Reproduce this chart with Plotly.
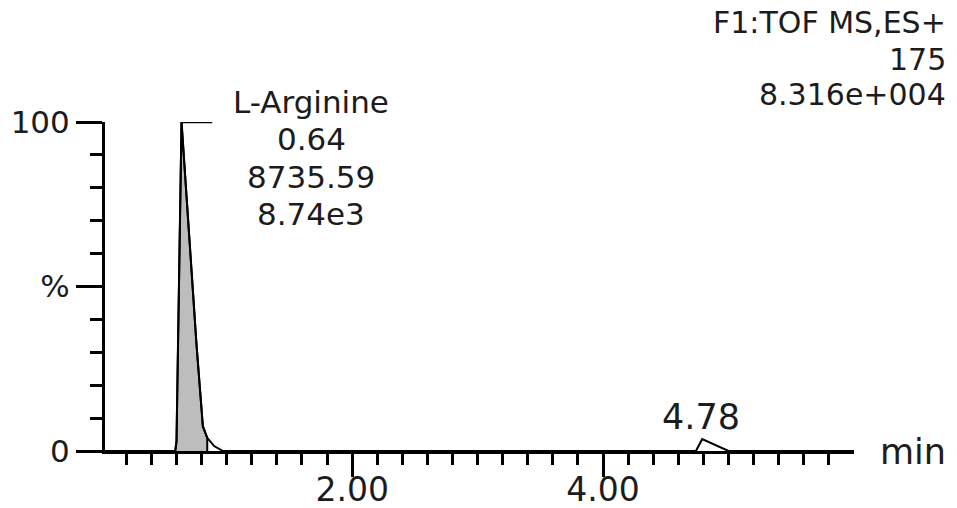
import numpy as np
import plotly.graph_objects as go

# Extracted ion chromatogram, m/z 175 (time in min, relative intensity in %)
time_min = [0.00, 0.59, 0.60, 0.64, 0.70, 0.76, 0.81, 0.845, 0.90, 0.97, 4.74, 4.79, 5.00, 6.00]
intensity = [0, 0, 3, 100, 66, 32, 7.5, 4, 1.5, 0, 0, 3.6, 0, 0]

# Integrated region of the main peak
area_time = [0.59, 0.60, 0.64, 0.70, 0.76, 0.81, 0.845, 0.845]
area_int = [0, 3, 100, 66, 32, 7.5, 4, 0]

# Peak annotations
peak_name = "L-Arginine"
peak_rt = 0.64
peak_area = "8735.59"
peak_height = "8.74e3"
minor_peak_rt = 4.78

# Trace header
header_lines = ["F1:TOF MS,ES+", "175", "8.316e+004"]

# Axis ticks
x_major = [1, 2, 3, 4, 5]
x_major_text = ["", "2.00", "", "4.00", ""]
x_minor = [round(v, 1) for v in np.arange(0.2, 5.81, 0.2)]
y_major = [0, 50, 100]
y_major_text = ["0", "%", "100"]

W, H = 957, 508
ML, MR, MT, MB = 105, 103, 122, 57
X0, X1 = 0.03, 6.0
FONT = "DejaVu Sans"
INK = "#1c1c1c"


def py_to_paper(py):
    return (H - MB - py) / (H - MT - MB)


def px_to_paper(px):
    return (px - ML) / (W - ML - MR)


fig = go.Figure()

# shaded integration area
fig.add_trace(go.Scatter(
    x=area_time, y=area_int, mode="lines", fill="toself",
    fillcolor="#bdbdbd", line=dict(color="black", width=2),
    hoverinfo="skip", showlegend=False))

# chromatogram
fig.add_trace(go.Scatter(
    x=time_min, y=intensity, mode="lines",
    line=dict(color="black", width=2), showlegend=False, cliponaxis=False))

# leader line from the apex to the peak label
apex = int(np.argmax(intensity))
fig.add_trace(go.Scatter(
    x=[time_min[apex], time_min[apex] + 0.245], y=[intensity[apex]] * 2,
    mode="lines", line=dict(color="black", width=2.5),
    showlegend=False, cliponaxis=False))

annotations = []
label_x = 1.675
label_lines = [peak_name, f"{peak_rt:.2f}", peak_area, peak_height]
label_py = [102, 139, 177, 214]
for txt, py in zip(label_lines, label_py):
    annotations.append(dict(
        x=label_x, xref="x", y=py_to_paper(py), yref="paper",
        text=txt, showarrow=False, xanchor="center", yanchor="middle",
        font=dict(family=FONT, size=31, color=INK)))

annotations.append(dict(
    x=minor_peak_rt, xref="x", y=py_to_paper(417), yref="paper",
    text=f"{minor_peak_rt:.2f}", showarrow=False, xanchor="center", yanchor="middle",
    font=dict(family=FONT, size=35, color=INK)))

for txt, py in zip(header_lines, [23, 59, 95]):
    annotations.append(dict(
        x=px_to_paper(948), xref="paper", y=py_to_paper(py), yref="paper",
        text=txt, showarrow=False, xanchor="right", yanchor="middle",
        font=dict(family=FONT, size=30, color=INK)))

annotations.append(dict(
    x=px_to_paper(878), xref="paper", y=py_to_paper(452), yref="paper",
    text="min", showarrow=False, xanchor="left", yanchor="middle",
    font=dict(family=FONT, size=35, color=INK)))

fig.update_layout(
    width=W, height=H,
    margin=dict(l=ML, r=MR, t=MT, b=MB, pad=0, autoexpand=False),
    paper_bgcolor="white", plot_bgcolor="white",
    font=dict(family=FONT, size=32, color=INK),
    annotations=annotations,
    xaxis=dict(
        range=[X0, X1], showgrid=False, zeroline=False, automargin=False,
        showline=True, linecolor="black", linewidth=3,
        tickmode="array", tickvals=x_major, ticktext=x_major_text,
        ticks="outside", ticklen=23, tickwidth=3, tickcolor="black",
        ticklabelstandoff=-16,
        tickfont=dict(family=FONT, size=33, color=INK),
        minor=dict(tickmode="array", tickvals=x_minor, ticks="outside",
                   ticklen=11, tickwidth=3, tickcolor="black", showgrid=False),
    ),
    yaxis=dict(
        range=[0, 100], showgrid=False, zeroline=False, automargin=False,
        showline=True, linecolor="black", linewidth=3,
        tickmode="array", tickvals=y_major, ticktext=y_major_text,
        ticks="outside", ticklen=26, tickwidth=3, tickcolor="black",
        tickfont=dict(family=FONT, size=31, color=INK),
        minor=dict(tickmode="linear", dtick=10, ticks="outside",
                   ticklen=12, tickwidth=3, tickcolor="black", showgrid=False),
    ),
)

fig.write_html("out.html")
